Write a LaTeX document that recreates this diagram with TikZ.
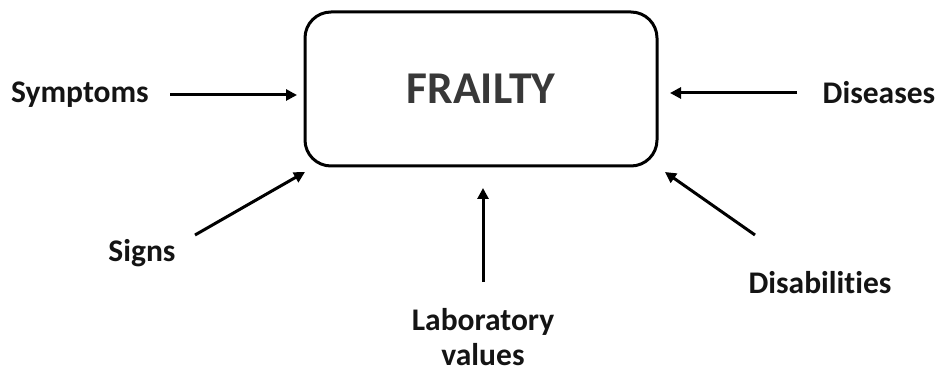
\documentclass[tikz,border=0pt]{standalone}
\usepackage{fontspec}
\setmainfont{Carlito}[RawFeature=-liga]
\usetikzlibrary{arrows.meta}
\begin{document}
\begin{tikzpicture}[x=1pt,y=-1pt,
  lbl/.style={font=\bfseries\fontsize{31.5}{35}\selectfont, text=black!92, inner sep=0pt, align=center},
  arr/.style={line width=3pt, -{Triangle[length=11pt,width=11pt]}}]
\useasboundingbox (0,0) rectangle (939,374);
\node[draw, line width=3pt, rounded corners=26pt, minimum width=352pt, minimum height=154pt,
      font=\bfseries\fontsize{45.5}{50}\selectfont, text=black!78] (frail) at (481,89) {FRAILTY};
\node[lbl] (sym) at (80,95) {Symptoms};
\node[lbl] (sig) at (142,253) {Signs};
\node[lbl] (lab) at (483,337) {Laboratory\\values};
\node[lbl] (dis) at (879,93) {Diseases};
\node[lbl] (dab) at (820,283) {Disabilities};
\coordinate (a1s) at (170,95);  \coordinate (a1e) at (297,95);
\coordinate (a2s) at (195,235); \coordinate (a2e) at (305,172);
\coordinate (a3s) at (483,282); \coordinate (a3e) at (483,188);
\coordinate (a4s) at (797,93);  \coordinate (a4e) at (670,93);
\coordinate (a5s) at (755,235); \coordinate (a5e) at (665,172);
\draw[arr] (a1s) -- (a1e);
\draw[arr] (a2s) -- (a2e);
\draw[arr] (a3s) -- (a3e);
\draw[arr] (a4s) -- (a4e);
\draw[arr] (a5s) -- (a5e);
\end{tikzpicture}
\end{document}
